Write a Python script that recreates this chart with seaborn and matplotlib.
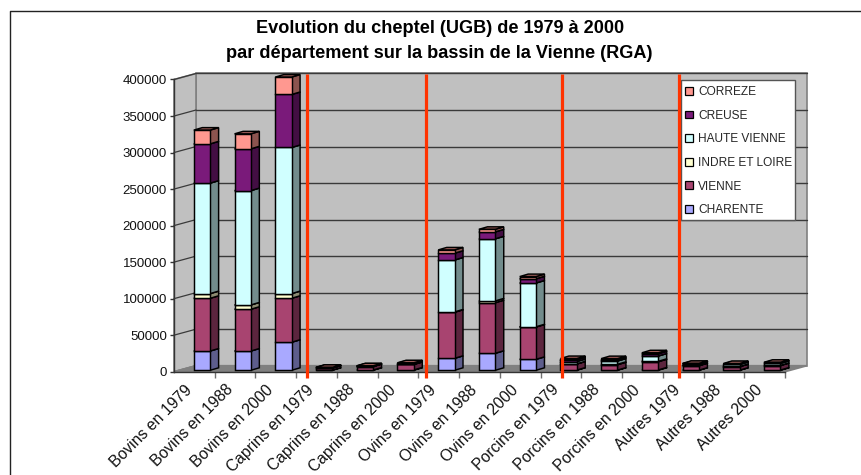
import matplotlib
matplotlib.use("Agg")
import matplotlib.pyplot as plt
import seaborn as sns
import numpy as np
from matplotlib.lines import Line2D
from matplotlib.patches import Patch, Polygon
from matplotlib.transforms import Affine2D

categories = ["Bovins en 1979", "Bovins en 1988", "Bovins en 2000",
              "Caprins en 1979", "Caprins en 1988", "Caprins en 2000",
              "Ovins en 1979", "Ovins en 1988", "Ovins en 2000",
              "Porcins en 1979", "Porcins en 1988", "Porcins en 2000",
              "Autres 1979", "Autres 1988", "Autres 2000"]

charente = [26400, 26400, 38400, 300, 300, 500, 16400, 23300, 15000, 300, 300, 500, 200, 200, 300]
vienne = [72200, 57200, 60200, 2800, 4800, 7500, 63100, 69300, 44300, 8300, 7400, 11300, 6100, 4800, 6200]
indre = [6400, 5900, 6400, 200, 200, 300, 400, 2400, 300, 300, 500, 500, 300, 300, 300]
haute_vienne = [151200, 156500, 200000, 300, 300, 700, 71100, 85000, 59900, 3100, 4500, 7200, 2000, 2700, 2700]
creuse = [53800, 57200, 72600, 300, 300, 800, 9300, 9500, 5800, 2500, 1800, 3200, 400, 700, 800]
correze = [18800, 20500, 23800, 200, 300, 500, 4500, 3500, 3000, 1600, 1500, 1300, 500, 600, 700]

series_names = ["CHARENTE", "VIENNE", "INDRE ET LOIRE", "HAUTE VIENNE", "CREUSE", "CORREZE"]
series_values = [charente, vienne, indre, haute_vienne, creuse, correze]
series_colors = ["#A9A9FF", "#A84470", "#FFFFD0", "#D0FFFF", "#7A1A7A", "#FF9890"]
separators = [2.76, 5.69, 9.02, 11.9]

W, H = 861, 475
FONT = ["Liberation Sans", "DejaVu Sans"]

sns.set_theme(style="white")
plt.rcParams["font.family"] = FONT

fig = plt.figure(figsize=(W / 100, H / 100), dpi=100)
ax = fig.add_axes([174 / W, (H - 371.7) / H, 611 / W, 292.2 / H])
ax.patch.set_visible(False)

# depth of the fake 3D: pixels right / up from the front plane
BACK = (22, 6)
BAR_SHIFT = (7.6, 1.4)
BAR_DEPTH = (8.5, 2.5)
EDGE = 1.05


def shade(color, factor):
    return tuple(c * factor for c in matplotlib.colors.to_rgb(color))


# stacked bars, front faces only
bottom = np.zeros(len(categories))
for i, (vals, col) in enumerate(zip(series_values, series_colors)):
    sns.barplot(x=categories, y=vals, bottom=bottom, color=col, saturation=1,
                width=0.4, edgecolor="black", linewidth=EDGE, errorbar=None,
                zorder=4 + i + 0.5, ax=ax)
    bottom = bottom + np.array(vals)

ax.set_xlim(-0.5, 14.5)
ax.set_ylim(0, 400000)
fig.canvas.draw()

shift = ax.transData + Affine2D().translate(*BAR_SHIFT)
for i, (container, col) in enumerate(zip(ax.containers, series_colors)):
    for bar in container:
        bar.set_transform(shift)
        bar.set_clip_on(False)
        x0, y0 = shift.transform((bar.get_x(), bar.get_y()))
        x1, y1 = shift.transform((bar.get_x() + bar.get_width(), bar.get_y() + bar.get_height()))
        dx, dy = BAR_DEPTH
        side = [(x1, y0), (x1 + dx, y0 + dy), (x1 + dx, y1 + dy), (x1, y1)]
        top = [(x0, y1), (x1, y1), (x1 + dx, y1 + dy), (x0 + dx, y1 + dy)]
        for pts, f in ((side, 0.55), (top, 0.62)):
            ax.add_patch(Polygon(pts, closed=True, transform=None, clip_on=False,
                                 facecolor=shade(col, f), edgecolor="black",
                                 linewidth=EDGE, zorder=4 + i))


# walls, floor and gridlines
def front(x, y):
    return ax.transData.transform((x, y))


def back(x, y):
    return front(x, y) + np.array(BACK)


xl, xr = ax.get_xlim()
ymax = ax.get_ylim()[1]
wall_kw = dict(closed=True, transform=None, clip_on=False, edgecolor="#808080", linewidth=1.2, zorder=0)
ax.add_patch(Polygon([back(xl, 0), back(xr, 0), back(xr, ymax), back(xl, ymax)], facecolor="#C0C0C0", **wall_kw))
ax.add_patch(Polygon([front(xl, 0), back(xl, 0), back(xl, ymax), front(xl, ymax)], facecolor="#C0C0C0", **wall_kw))
ax.add_patch(Polygon([front(xl, 0), front(xr, 0), back(xr, 0), back(xl, 0)], facecolor="#808080", **wall_kw))

yticks = np.arange(0, 400001, 50000)
for y in yticks:
    if y > 0:
        a, b = back(xl, y), back(xr, y)
        ax.add_line(Line2D([a[0], b[0]], [a[1], b[1]], transform=None, clip_on=False,
                           color="#3A3A3A", lw=1.0, zorder=1))
    a, b = front(xl, y), back(xl, y)
    ax.add_line(Line2D([a[0], b[0]], [a[1], b[1]], transform=None, clip_on=False,
                       color="#3A3A3A" if y > 0 else "#808080", lw=0.9, zorder=1))

# hand drawn separators between the animal groups
for x in separators:
    ax.plot([x, x], [-8200, 407500], color="#FF3300", lw=2.3, clip_on=False,
            solid_capstyle="butt", zorder=20)

# axes
sns.despine(ax=ax, top=True, right=True)
for s in ("left", "bottom"):
    ax.spines[s].set_color("#333333")
    ax.spines[s].set_linewidth(1.0)
ax.set_yticks(yticks, [str(int(y)) for y in yticks])
ax.set_xticks(range(len(categories)), categories, rotation=45, ha="right", va="top",
              rotation_mode="anchor")
ax.set_xticks(np.arange(len(categories)) + 0.5, minor=True)
ax.tick_params(axis="x", which="major", length=0, pad=9, labelsize=11.3, labelcolor="#111111")
ax.tick_params(axis="x", which="minor", length=4, width=1, color="#707070", bottom=True)
ax.tick_params(axis="y", length=3, width=1, color="#333333", pad=2, labelsize=9.5,
               labelcolor="#111111", left=True)
for label in ax.get_xticklabels():
    label.set_transform(label.get_transform() + Affine2D().translate(-10, 2))

# legend: own white box, the legend itself only holds the rows
ax.add_patch(Polygon([(681, H - 80), (795, H - 80), (795, H - 220), (681, H - 220)], closed=True,
                     transform=None, clip_on=False, facecolor="white", edgecolor="#555555",
                     linewidth=1.0, zorder=14))
handles = [Patch(facecolor=c, edgecolor="black", linewidth=0.9, label=n)
           for n, c in zip(series_names[::-1], series_colors[::-1])]
leg = ax.legend(handles=handles, loc="upper left", bbox_to_anchor=(685 / W, (H - 86) / H),
                bbox_transform=fig.transFigure, borderaxespad=0, borderpad=0, frameon=False,
                fontsize=8.55, handlelength=0.65, handleheight=0.65, handletextpad=0.45,
                labelspacing=0.98)
leg.set_zorder(15)

fig.text(439.6 / W, 1 - 41 / H, "Evolution du cheptel (UGB) de 1979 à 2000\npar département sur la bassin de la Vienne (RGA)",
         ha="center", va="center", fontsize=13.1, fontweight="bold", color="black", linespacing=1.6)

# chart frame, runs off the page on the right and at the bottom
fig.add_artist(Line2D([10 / W, 10 / W, 1], [0, 1 - 11 / H, 1 - 11 / H], color="#222222", lw=1.0))

fig.savefig("out.png", dpi=100)
